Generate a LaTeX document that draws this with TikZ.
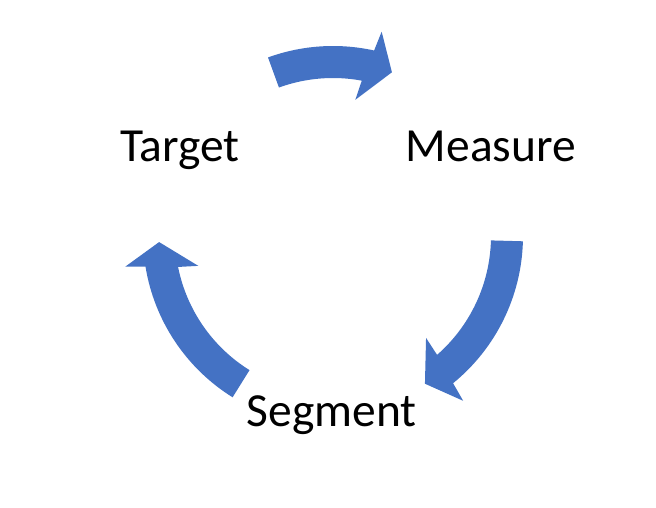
\documentclass[tikz,border=0pt]{standalone}
\usepackage{fontspec}
\setmainfont{Carlito}
\definecolor{arrowblue}{HTML}{4472C4}
\tikzset{
  lbl/.style={anchor=base, inner sep=0pt, font=\fontsize{47.5}{57}\selectfont, text=black},
  cyclearrow/.style={fill=arrowblue, draw=none}
}
% #1 tail angle, #2 tip angle (arrows run clockwise)
\newcommand{\cyclearrowpath}[2]{%
  \fill[cyclearrow] (#1:190) arc[start angle=#1, end angle={#2+7.3}, radius=190]
    -- ({#2+6.4}:210) -- (#2:174) -- ({#2+10.5}:138) -- ({#2+9.3}:158)
    arc[start angle={#2+9.3}, end angle=#1, radius=158] -- cycle;}
\begin{document}
\begin{tikzpicture}[x=1pt,y=1pt]
\useasboundingbox[fill=white] (0,0) rectangle (656,508);
\coordinate (C) at (333,272);
\begin{scope}[shift={(C)}]
  \cyclearrowpath{110}{70.2}
  \cyclearrowpath{-1.6}{-58.1}
  \cyclearrowpath{238.1}{182.0}
\end{scope}
\node[lbl] (target) at (180,346.3) {Target};
\node[lbl] (measure) at (491,346.3) {Measure};
\node[lbl] (segment) at (331.7,81.3) {Segment};
\end{tikzpicture}
\end{document}
